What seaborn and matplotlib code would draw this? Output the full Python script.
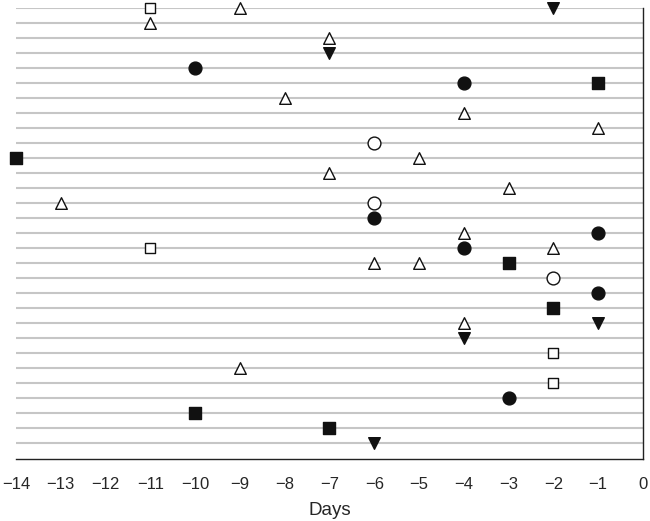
import matplotlib
matplotlib.use("Agg")
import matplotlib.pyplot as plt
import numpy as np
import pandas as pd
import seaborn as sns

# rows counted from top (0) to bottom (29); days before event
N_ROWS = 30

open_square_row = [0, 16, 23, 25]
open_square_day = [-11, -11, -2, -2]

open_triangle_row = [0, 1, 2, 6, 7, 8, 10, 11, 12, 13, 15, 16, 17, 17, 21, 24]
open_triangle_day = [-9, -11, -7, -8, -4, -1, -5, -7, -3, -13, -4, -2, -6, -5, -4, -9]

filled_down_row = [0, 3, 21, 22, 29]
filled_down_day = [-2, -7, -1, -4, -6]

filled_circle_row = [4, 5, 14, 15, 16, 19, 26]
filled_circle_day = [-10, -4, -6, -1, -4, -1, -3]

open_circle_row = [9, 13, 18]
open_circle_day = [-6, -6, -2]

filled_square_row = [5, 10, 17, 20, 27, 28]
filled_square_day = [-1, -14, -3, -2, -10, -7]

x_ticks = list(range(-14, 1))

groups = [
    ("open square", open_square_row, open_square_day, "s", "white", 60),
    ("open triangle", open_triangle_row, open_triangle_day, "^", "white", 70),
    ("filled down", filled_down_row, filled_down_day, "v", "#111111", 70),
    ("filled circle", filled_circle_row, filled_circle_day, "o", "#111111", 85),
    ("open circle", open_circle_row, open_circle_day, "o", "white", 85),
    ("filled square", filled_square_row, filled_square_day, "s", "#111111", 65),
]

frames = []
for name, rows, days, *_ in groups:
    frames.append(pd.DataFrame({"kind": name, "row": rows, "day": days}))
df = pd.concat(frames, ignore_index=True)

sns.set_style("white")
plt.rcParams["font.family"] = ["Liberation Sans", "DejaVu Sans"]

fig = plt.figure(figsize=(6.5, 5.21), dpi=100)
ax = fig.add_axes([0.0246, 0.119, 0.9646, 0.866])

ax.hlines(np.arange(N_ROWS), -14, 0, color="#c6c6c6", lw=1.5, zorder=1)

for name, rows, days, marker, face, size in groups:
    sub = df[df["kind"] == name]
    sns.scatterplot(data=sub, x="day", y="row", marker=marker, s=size,
                    color=face, edgecolor="#111111", linewidth=1.0,
                    ax=ax, zorder=3, clip_on=False, legend=False)

ax.set_xlim(-14, 0)
ax.set_ylim(N_ROWS - 1 + 16 / 15, 0)
ax.set_xticks(x_ticks)
ax.set_xticklabels([f"\u2212{abs(t)}" if t < 0 else str(t) for t in x_ticks], fontsize=12)
ax.set_yticks([])
ax.set_ylabel("")
ax.set_xlabel("Days", fontsize=13.5, labelpad=7)
ax.tick_params(axis="x", direction="out", length=5, width=1, color="#222222", pad=8)

for side in ["top", "left"]:
    ax.spines[side].set_visible(False)
for side in ["bottom", "right"]:
    ax.spines[side].set_color("#222222")
    ax.spines[side].set_linewidth(1)

fig.savefig("out.png", dpi=100)
